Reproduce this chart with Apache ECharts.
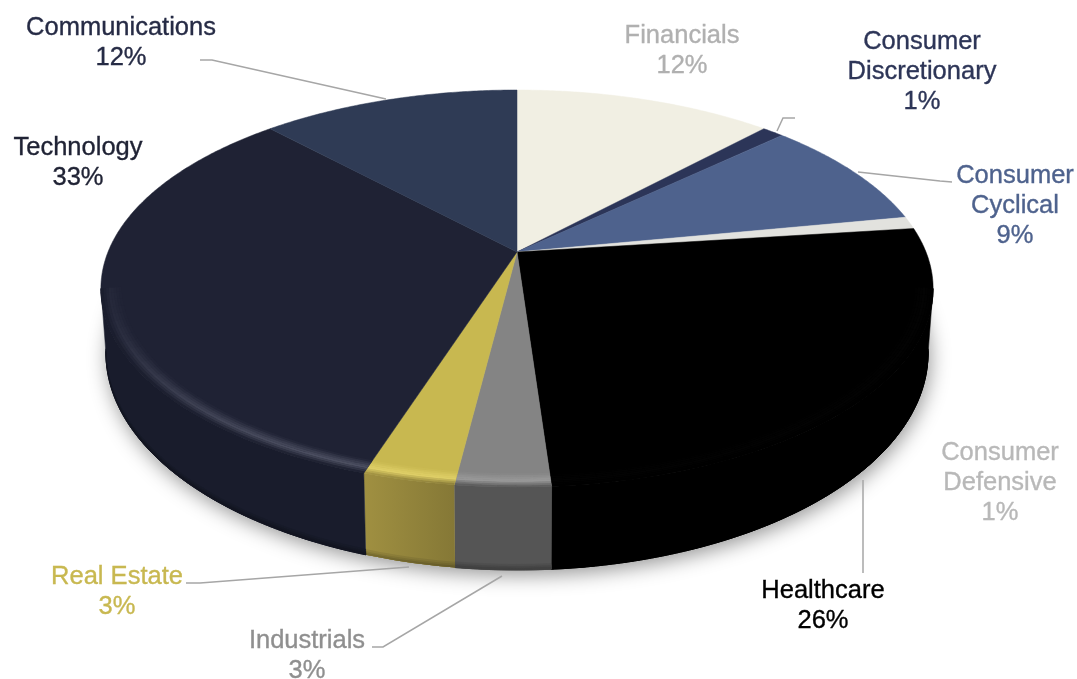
<!DOCTYPE html>
<html>
<head>
<meta charset="utf-8">
<style>html,body{margin:0;padding:0;background:#fff}#c{width:1077px;height:679px}</style>
<script src="https://cdn.jsdelivr.net/npm/echarts@6/dist/echarts.min.js"></script>
</head>
<body>
<div id="c"></div>
<script>
// ---- data ----
const categories = ['Financials','Consumer Discretionary','Consumer Cyclical','Consumer Defensive','Healthcare','Industrials','Real Estate','Technology','Communications'];
const values = [12,1,9,1,25.9,3.1,3,33,12];

// ---- styles ----
const faceColors = ['#F1EFE3','#2C3558','#4E628D','#E2E2DE','#000000','#848484','#C8B850','#1F2234','#2F3B55'];
const wallColors = ['#A09F97','#1C2238','#34425E','#999999','#000000','#555555','#857836','#191C2C','#20283A'];
const rimLight   = [0,0,0,0,3,22,24,46,0];
const textColors = ['#B0B0B0','#2D3557','#4E628D','#B8B8B8','#000000','#8F8F8F','#C8B850','#1F2234','#262B45'];

// ---- label layout (centre x, first-line y, leader polyline) ----
const labelX = [682,922,1015,1000,823,307,117,78,121];
const labelY = [34,40,174,451,589,639,575,146,26];
const leaders = [
  null,
  [[795,118],[783,118],[777,131]],
  [[952,182],[940,181],[858,172]],
  null,
  [[863,573],[863,480]],
  [[372,647],[383,647],[502,576]],
  [[186,583],[200,583],[409,567]],
  null,
  [[200,60],[212,60],[386,99]]
];

// ---- perspective projection of the disc ----
const K = 0.184, CX = 517;
const TOP = {A:409, B:191.8, y0:252};
const BOT = {A:404, B:209.3, y0:313.5};
const rad = d => d*Math.PI/180;
function proj(theta, r, L){
  const X = r*Math.sin(rad(theta)), Y = -r*Math.cos(rad(theta)), w = 1-K*Y;
  return [CX + L.A*X/w, L.y0 + L.B*Y/w];
}
function lerpPt(theta, s){
  const a = proj(theta,1,TOP), b = proj(theta,1,BOT);
  return [a[0]+(b[0]-a[0])*s, a[1]+(b[1]-a[1])*s];
}
const FRONT_A = 100.6, FRONT_B = 259.4;
const total = values.reduce((a,b)=>a+b,0);
const starts = []; values.reduce((s,v,i)=>{starts[i]=s;return s+v;},0);

function hex(c){return [1,3,5].map(i=>parseInt(c.substr(i,2),16));}
function css(a){return 'rgb('+a.map(v=>Math.max(0,Math.min(255,Math.round(v)))).join(',')+')';}
function mix(a,b,t){return a.map((v,i)=>v+(b[i]-v)*t);}
function smooth(t){t=Math.max(0,Math.min(1,t));return t*t*(3-2*t);}
// strength of the rim highlight along the front edge
function rimStrength(th){ return 0.12 + 0.88*smooth((262-th)/62); }

function renderShadow(){
  const pts=[];
  for(let t=0;t<360;t+=1) pts.push(proj(t,1,BOT));
  return {type:'polygon',shape:{points:pts},
    style:{fill:'#cfcfcf',shadowBlur:20,shadowColor:'rgba(0,0,0,0.42)',shadowOffsetX:2,shadowOffsetY:5}};
}

function arcRange(a,b,step){
  const out=[]; for(let t=a;t<b;t+=step) out.push(t); out.push(b); return out;
}

function renderSlice(params, api){
  const i = params.dataIndex, v = api.value(0);
  const a0 = starts[i]/total*360, a1 = a0 + v/total*360;
  const face = faceColors[i], F = hex(face), W = hex(wallColors[i]);
  const kids = [];
  const pts = [[CX, TOP.y0]];
  arcRange(a0,a1,0.5).forEach(t=>pts.push(proj(t,1,TOP)));
  kids.push({type:'polygon',shape:{points:pts},style:{fill:face,stroke:face,lineWidth:0.5}});
  const f0 = Math.max(a0,FRONT_A), f1 = Math.min(a1,FRONT_B);
  if(f1>f0){
    const angles = arcRange(f0,f1,1);
    // wall: stacked solid layers, darkening slightly towards the bottom edge
    const layers = [[0,1,1],[0.93,1,0.92],[0.955,1,0.84],[0.975,1,0.76]];
    layers.forEach(l=>{
      const q=[];
      angles.forEach(t=>q.push(lerpPt(t,l[0])));
      angles.slice().reverse().forEach(t=>q.push(lerpPt(t,l[1])));
      const c0 = css(W.map(c=>c*l[2]));
      const fill = (i===6)
        ? new echarts.graphic.LinearGradient(0,0,1,0,[{offset:0,color:css(W.map(c=>c*l[2]*1.2))},{offset:1,color:c0}])
        : c0;
      kids.push({type:'polygon',shape:{points:q},style:{fill:fill,stroke:i===6?null:c0,lineWidth:0.5}});
    });
    // bevel along the rim of the top face
    const STEP = 2, BANDS = 8, R0 = 0.952;
    for(let t=f0;t<f1-1e-6;t+=STEP){
      const e = Math.min(t+STEP,f1), e2 = Math.min(e+0.25,f1);
      const add = rimLight[i]*rimStrength((t+e)/2);
      const L = F.map(c=>c+add);
      const wc = (i===6) ? W.map(c=>c*(1+0.2*(t-a0)/(a1-a0))) : W;
      for(let b=0;b<BANDS;b++){
        const u0=b/BANDS,u1=(b+1)/BANDS,um=(u0+u1)/2;
        const r0=R0+(1-R0)*u0,r1=R0+(1-R0)*u1+0.0008;
        const col = um<0.55 ? mix(F,L,um/0.55) : mix(L,wc,(um-0.55)/0.45);
        kids.push({type:'polygon',shape:{points:[proj(t,r0,TOP),proj(e2,r0,TOP),proj(e2,r1,TOP),proj(t,r1,TOP)]},
          style:{fill:css(col)}});
      }
    }
  }
  return {type:'group',children:kids};
}

// ---- labels and leader lines ----
function labelText(i){
  const name = categories[i].replace('Consumer ','Consumer\n');
  return name+'\n'+Math.round(values[i])+'%';
}
const graphics = [];
categories.forEach((c,i)=>{
  if(leaders[i]) graphics.push({type:'polyline',z:20,shape:{points:leaders[i]},
    style:{fill:null,stroke:'#A6A6A6',lineWidth:1.5}});
  graphics.push({type:'text',z:21,x:labelX[i],y:labelY[i]-13,
    style:{text:labelText(i),fill:textColors[i],align:'center',verticalAlign:'top',
      stroke:textColors[i],lineWidth:0.35,
      font:'25.5px "Liberation Sans"',lineHeight:30}});
});

const chart = echarts.init(document.getElementById('c'),null,{renderer:'canvas',width:1077,height:679});
chart.setOption({
  animation:false,
  backgroundColor:'#ffffff',
  graphic:graphics,
  series:[
    {type:'custom',coordinateSystem:'none',silent:true,z:1,data:[[1]],renderItem:renderShadow},
    {type:'custom',coordinateSystem:'none',silent:true,z:2,
      data:values.map((v,i)=>({name:categories[i],value:[v]})),
      renderItem:renderSlice}
  ]
});
</script>
</body>
</html>
